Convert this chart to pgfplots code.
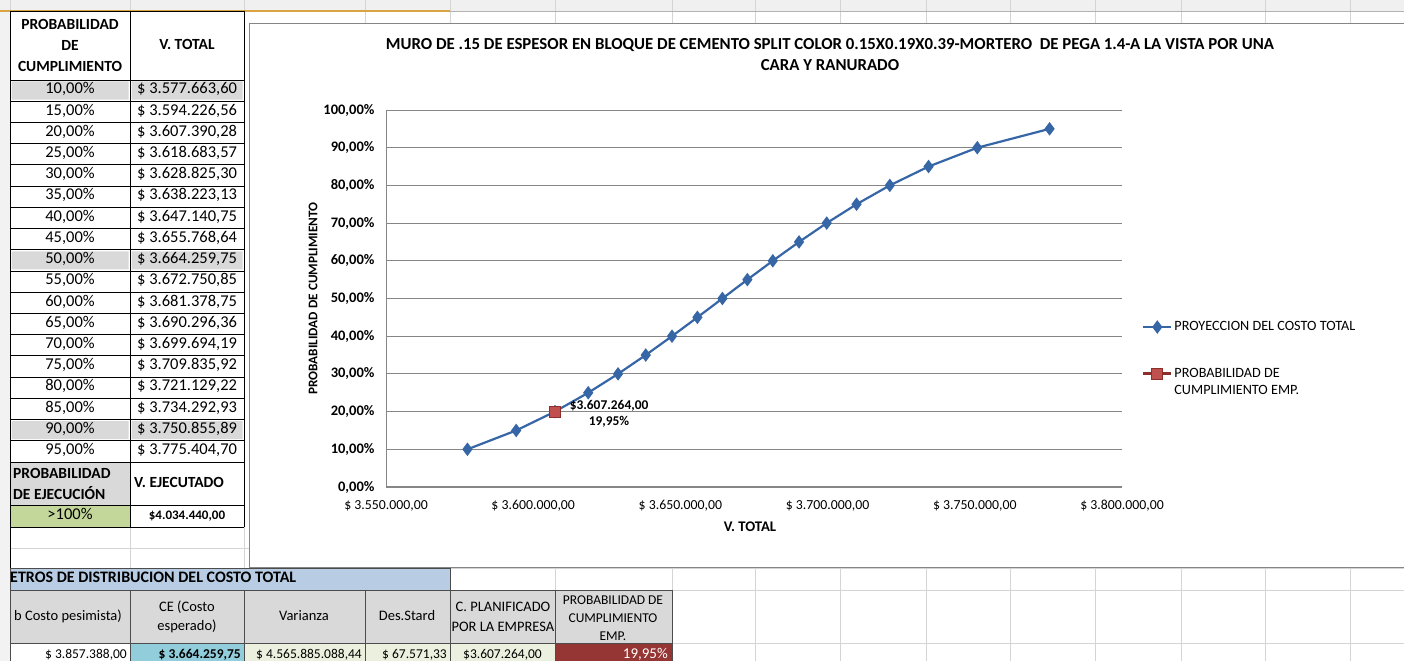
\documentclass[border=0pt]{standalone}
\usepackage{fontspec}
\setmainfont{Carlito}
\usepackage{pgfplots}
\pgfplotsset{compat=1.18}

\definecolor{tblgray}{HTML}{D9D9D9}
\definecolor{tblgreen}{HTML}{C4D79B}
\definecolor{tblblue}{HTML}{B8CCE4}
\definecolor{cellblue}{HTML}{92CDDC}
\definecolor{cellgreen}{HTML}{EBF1DE}
\definecolor{cellred}{HTML}{963634}
\definecolor{gridlight}{HTML}{D4D4D4}
\definecolor{axisgray}{HTML}{868686}
\definecolor{serieblue}{HTML}{3766A6}
\definecolor{seriered}{HTML}{C0504D}
\definecolor{seriereddark}{HTML}{8C2F2C}
\definecolor{selorange}{HTML}{D9A441}

\begin{document}
\begin{tikzpicture}
\useasboundingbox (0,0) rectangle (1404bp,661bp);

% ---------- hoja de calculo (y hacia abajo, en px) ----------
\begin{scope}[x=1bp,y=-1bp,yshift=661bp,
  cell/.style={inner sep=0pt, text height=0.65em, text depth=0pt},
  tbl/.style={font=\fontsize{16.5bp}{19bp}\selectfont},
  tblb/.style={font=\bfseries\fontsize{15.5bp}{21bp}\selectfont},
  bot/.style={font=\fontsize{13.5bp}{19bp}\selectfont},
  both/.style={font=\fontsize{14.5bp}{19.5bp}\selectfont}]
\fill[white] (0,0) rectangle (1404,661);
\fill[black!6] (0,0) rectangle (1404,11);
\fill[black!5] (0,11) rectangle (10,661);
% cuadricula clara
\foreach \x in {10,130,244,365,450,555,672,755,840,926,1010,1095,1181,1265,1350}
  \draw[gridlight] (\x,0) -- (\x,661);
\foreach \y in {548,568,590,643}
  \draw[gridlight] (10,\y) -- (1404,\y);
\draw[selorange, line width=1.2bp] (0,11) -- (450,11);
\draw[black!30] (450,11) -- (1404,11);

% area del grafico
\filldraw[fill=white, draw=axisgray, line width=1bp] (249,24) rectangle (1410,568);

% ---------- tabla izquierda ----------
\foreach \i in {0,8,16}
  \fill[tblgray] (11.5,{80+21.22*\i+1.5}) rectangle (128.5,{80+21.22*(\i+1)-1.5})
                 (131.5,{80+21.22*\i+1.5}) rectangle (242.5,{80+21.22*(\i+1)-1.5});
\fill[tblgray] (10,462) rectangle (130,505);
\fill[tblgreen] (10,505) rectangle (130,527);
\draw[black, line width=0.8bp] (10,11) -- (244,11);
\draw[black, line width=0.8bp] (10,80) -- (244,80);
\foreach \k in {1,...,18}
  \draw[black, line width=0.8bp] (10,{80+21.22*\k}) -- (244,{80+21.22*\k});
\draw[black, line width=0.8bp] (10,505) -- (244,505) (10,527) -- (244,527);
\draw[black, line width=0.8bp] (10,11) -- (10,568) (130,11) -- (130,527) (244,11) -- (244,527);

\node[tblb, align=center, inner sep=0pt] at (70,45) {PROBABILIDAD\\DE\\CUMPLIMIENTO};
\node[tblb, cell] at (187,46) {V. TOTAL};
\foreach \i/\p/\v in {0/10/3.577.663{,}60,1/15/3.594.226{,}56,2/20/3.607.390{,}28,
   3/25/3.618.683{,}57,4/30/3.628.825{,}30,5/35/3.638.223{,}13,6/40/3.647.140{,}75,
   7/45/3.655.768{,}64,8/50/3.664.259{,}75,9/55/3.672.750{,}85,10/60/3.681.378{,}75,
   11/65/3.690.296{,}36,12/70/3.699.694{,}19,13/75/3.709.835{,}92,14/80/3.721.129{,}22,
   15/85/3.734.292{,}93,16/90/3.750.855{,}89,17/95/3.775.404{,}70}{
  \node[tbl, cell] at (70,{80+21.22*(\i+0.5)}) {\p,00\%};
  \node[tbl, cell, anchor=west] at (137,{80+21.22*(\i+0.5)}) {\$ \v};
}
\node[tblb, align=left, anchor=west, inner sep=0pt] at (13,484) {PROBABILIDAD\\DE EJECUCIÓN};
\node[tblb, cell, anchor=west] at (134,484) {V. EJECUTADO};
\node[tbl, cell] at (70,516) {>100\%};
\node[cell, font=\bfseries\fontsize{13bp}{15bp}\selectfont] at (187,516) {\$4.034.440,00};

% ---------- tabla inferior ----------
\fill[tblblue] (10,568) rectangle (450,590);
\draw[black!70, line width=0.8bp] (10,568) rectangle (450,590);
\node[cell, anchor=west, font=\bfseries\fontsize{16bp}{18bp}\selectfont] at (10,579)
  {ETROS DE DISTRIBUCION DEL COSTO TOTAL};
\fill[tblgray] (10,590) rectangle (672,643);
\fill[white] (10,643) rectangle (130,661);
\fill[cellblue] (130,643) rectangle (244,661);
\fill[cellgreen] (244,643) rectangle (555,661);
\fill[cellred] (555,643) rectangle (672,661);
\foreach \x in {10,130,244,365,450,555,672}
  \draw[black!70, line width=0.8bp] (\x,590) -- (\x,661);
\draw[black!70, line width=0.8bp] (10,590) -- (672,590) (10,643) -- (672,643);
\node[both, cell] at (68,617) {b Costo pesimista)};
\node[both, align=center, inner sep=0pt] at (187,617) {CE (Costo\\esperado)};
\node[both, cell] at (304,617) {Varianza};
\node[both, cell] at (407,617) {Des.Stard};
\node[both, align=center, inner sep=0pt] at (503,617) {C. PLANIFICADO\\POR LA EMPRESA};
\node[align=center, inner sep=0pt, font=\fontsize{13.5bp}{18bp}\selectfont] at (613,618)
  {PROBABILIDAD DE\\CUMPLIMIENTO\\EMP.};
\node[bot, cell, anchor=east] at (127,655) {\$ 3.857.388,00};
\node[bot, cell, anchor=east, font=\bfseries\fontsize{13.5bp}{16bp}\selectfont] at (241,655) {\$ 3.664.259,75};
\node[bot, cell, anchor=east] at (362,655) {\$ 4.565.885.088,44};
\node[bot, cell, anchor=east] at (447,655) {\$ 67.571,33};
\node[bot, cell, anchor=west] at (463,655) {\$3.607.264,00};
\node[cell, anchor=east, text=white, font=\fontsize{15bp}{17bp}\selectfont] at (668,655) {19,95\%};

% titulo del grafico
\node[align=center, font=\bfseries\fontsize{16.8bp}{21bp}\selectfont] at (830,55)
  {MURO DE .15 DE ESPESOR EN BLOQUE DE CEMENTO SPLIT COLOR 0.15X0.19X0.39-MORTERO \ DE PEGA 1.4-A LA VISTA POR UNA\\CARA Y RANURADO};
\end{scope}

% ---------- grafico ----------
\begin{axis}[
    at={(386bp,174bp)}, anchor=south west,
    scale only axis,
    width=736bp, height=377bp,
    xmin=3550000, xmax=3800000,
    ymin=0, ymax=100,
    enlargelimits=false,
    scaled x ticks=false,
    clip=false,
    axis x line*=bottom, axis y line*=left,
    axis line style={draw=axisgray, line width=1bp},
    major tick length=0pt,
    ymajorgrids,
    grid style={draw=axisgray, line width=0.9bp},
    xtick={3550000,3600000,3650000,3700000,3750000,3800000},
    xticklabels={{\$ 3.550.000,00},{\$ 3.600.000,00},{\$ 3.650.000,00},
                 {\$ 3.700.000,00},{\$ 3.750.000,00},{\$ 3.800.000,00}},
    ytick={0,10,20,30,40,50,60,70,80,90,100},
    yticklabels={{0,00\%},{10,00\%},{20,00\%},{30,00\%},{40,00\%},{50,00\%},
                 {60,00\%},{70,00\%},{80,00\%},{90,00\%},{100,00\%}},
    xticklabel style={font=\fontsize{13.8bp}{15bp}\selectfont, yshift=-10bp},
    yticklabel style={font=\bfseries\fontsize{14.5bp}{15bp}\selectfont, xshift=-8bp},
    xlabel={V. TOTAL},
    ylabel={PROBABILIDAD DE CUMPLIMIENTO},
    xlabel style={font=\bfseries\fontsize{14.7bp}{16bp}\selectfont,
                  at={(axis description cs:0.4946,-0.106)}, anchor=center},
    ylabel style={font=\bfseries\fontsize{13.2bp}{15bp}\selectfont,
                  at={(axis description cs:-0.0992,0.5)}, anchor=center},
    legend style={at={(1.0272,0.4443)}, anchor=north west, draw=none, fill=none,
                  font=\fontsize{14.2bp}{16bp}\selectfont, row sep=2bp,
                  inner sep=0pt, cells={anchor=west}},
    legend cell align=left,
    legend image code/.code={%
        \draw[mark repeat=2,mark phase=2]
        plot coordinates {(0bp,0bp)(14bp,0bp)(28bp,0bp)};},
]
\addplot[color=serieblue, line width=2.2bp, mark=diamond*, mark size=5bp,
         mark options={solid, fill=serieblue, draw=serieblue},
         legend image code/.code={%
            \draw[mark repeat=2,mark phase=2]
            plot coordinates {(0bp,0bp)(14bp,0bp)(28bp,0bp)};
            \path (0bp,-36bp);}] coordinates {
    (3577663.60,10)(3594226.56,15)(3607390.28,20)(3618683.57,25)
    (3628825.30,30)(3638223.13,35)(3647140.75,40)(3655768.64,45)
    (3664259.75,50)(3672750.85,55)(3681378.75,60)(3690296.36,65)
    (3699694.19,70)(3709835.92,75)(3721129.22,80)(3734292.93,85)
    (3750855.89,90)(3775404.70,95)
};
\addlegendentry{PROYECCION DEL COSTO TOTAL}
\addplot[color=seriereddark, line width=2.2bp, mark=square*, mark size=5.5bp,
         mark options={solid, fill=seriered, draw=seriereddark, line width=0.8bp}]
    coordinates {(3607264.00,19.95)};
\addlegendentry{PROBABILIDAD DE}
\addlegendimage{empty legend}
\addlegendentry{CUMPLIMIENTO EMP.}
\node[align=center, anchor=north west, inner sep=0pt, xshift=15bp, yshift=12bp,
      font=\bfseries\fontsize{13.4bp}{16bp}\selectfont]
    at (axis cs:3607264,19.95) {\$3.607.264,00\\19,95\%};
\end{axis}
\end{tikzpicture}
\end{document}
